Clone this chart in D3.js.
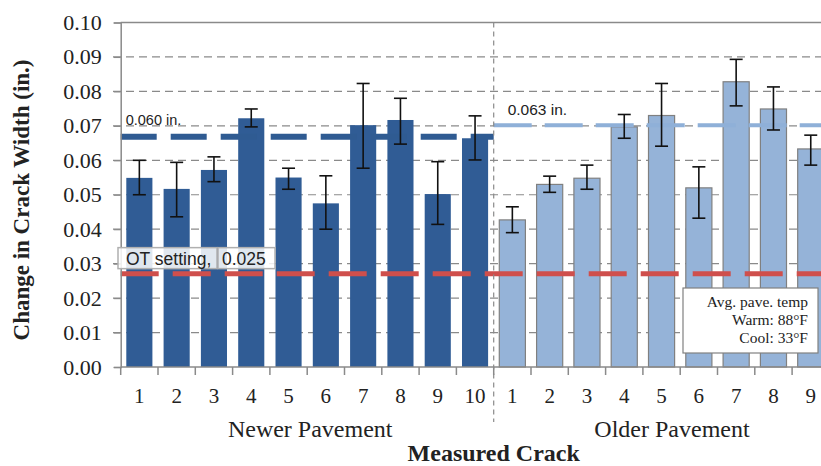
<!DOCTYPE html>
<html><head><meta charset="utf-8">
<script src="https://cdn.jsdelivr.net/npm/d3@7"></script>
<style>body{margin:0;background:#fff}svg{display:block}</style>
</head><body>
<svg id="c" width="821" height="466"></svg>
<script>
const newerCracks = ["1","2","3","4","5","6","7","8","9","10"];
const olderCracks = ["1","2","3","4","5","6","7","8","9","10"];
const newerValues = [0.0549,0.0517,0.0572,0.0722,0.0550,0.0475,0.0702,0.0717,0.0502,0.0664];
const newerErrHigh = [0.0600,0.0594,0.0610,0.0749,0.0577,0.0555,0.0823,0.0780,0.0596,0.0729];
const newerErrLow  = [0.0500,0.0436,0.0538,0.0697,0.0516,0.0400,0.0577,0.0647,0.0414,0.0601];
const olderValues = [0.0427,0.0530,0.0548,0.0697,0.0730,0.0520,0.0828,0.0749,0.0633];
const olderErrHigh = [0.0465,0.0554,0.0586,0.0733,0.0823,0.0581,0.0893,0.0813,0.0673];
const olderErrLow  = [0.0390,0.0507,0.0516,0.0664,0.0641,0.0432,0.0758,0.0688,0.0586];
const yTicks = [0,0.01,0.02,0.03,0.04,0.05,0.06,0.07,0.08,0.09,0.10];
const newerAvgLine = 0.0668, newerAvgLabel = "0.060 in.";
const olderAvgLine = 0.0702, olderAvgLabel = "0.063 in.";
const otLine = 0.0271, otLabel1 = "OT setting,", otLabel2 = "0.025";
const legendLines = ["Avg. pave. temp","Warm: 88°F","Cool: 33°F"];
const groupLabels = ["Newer Pavement","Older Pavement"];
const xTitle = "Measured Crack", yTitle = "Change in Crack Width (in.)";

const W = 821;
const svg = d3.select("#c");
const L = 120.7, T = 22.5, B = 367, step = 37.3;
const keys = newerCracks.map(c=>"N"+c).concat(olderCracks.map(c=>"O"+c));
const R = L + step*keys.length;
const x = d3.scaleBand().domain(keys).range([L,R]).paddingInner(0.3).paddingOuter(0.15);
const y = d3.scaleLinear().domain([0,0.10]).range([B,T]);
const serif = "'Liberation Serif','Times New Roman',serif";
const sans = "'Liberation Sans',Arial,sans-serif";
const st = x.step();
const slotLeft = k => x(k) - x.paddingInner()*st/2;
const cxOf = k => x(k) + x.bandwidth()/2;

// grid
svg.append("g").selectAll("line").data(yTicks.filter(t=>t>0 && t<0.10)).join("line")
  .attr("x1",113).attr("x2",W).attr("y1",d=>y(d)).attr("y2",d=>y(d))
  .attr("stroke","#8a8a8a").attr("stroke-width",1.2).attr("stroke-dasharray","8,5");
// top border
svg.append("line").attr("x1",L).attr("x2",W).attr("y1",y(0.10)).attr("y2",y(0.10)).attr("stroke","#8a8a8a").attr("stroke-width",1.5);

const newerData = newerValues.map((v,i)=>({k:"N"+newerCracks[i],v,hi:newerErrHigh[i],lo:newerErrLow[i]}));
const olderData = olderValues.map((v,i)=>({k:"O"+olderCracks[i],v,hi:olderErrHigh[i],lo:olderErrLow[i]}));

svg.append("g").selectAll("rect").data(newerData).join("rect")
  .attr("x",d=>x(d.k)).attr("width",x.bandwidth()).attr("y",d=>y(d.v)).attr("height",d=>B-y(d.v))
  .attr("fill","#305c95");
svg.append("g").selectAll("rect").data(olderData).join("rect")
  .attr("x",d=>x(d.k)).attr("width",x.bandwidth()).attr("y",d=>y(d.v)).attr("height",d=>B-y(d.v))
  .attr("fill","#95b3d8").attr("stroke","#808080").attr("stroke-width",1.2);

// reference lines
const nEnd = slotLeft("O1");
svg.append("line").attr("x1",L).attr("x2",nEnd).attr("y1",y(newerAvgLine)).attr("y2",y(newerAvgLine))
  .attr("stroke","#2f5b92").attr("stroke-width",6).attr("stroke-dasharray","36,14");
svg.append("line").attr("x1",nEnd).attr("x2",R).attr("y1",y(olderAvgLine)).attr("y2",y(olderAvgLine))
  .attr("stroke","#8fb0d8").attr("stroke-width",4).attr("stroke-dasharray","38,13");
svg.append("line").attr("x1",L).attr("x2",R).attr("y1",y(otLine)).attr("y2",y(otLine))
  .attr("stroke","#cf4f4c").attr("stroke-width",5).attr("stroke-dasharray","38,14");

// error bars
const allData = newerData.concat(olderData);
const eg = svg.append("g").attr("stroke","#111").attr("stroke-width",1.6);
allData.forEach(d=>{
  const cx = cxOf(d.k);
  eg.append("line").attr("x1",cx).attr("x2",cx).attr("y1",y(d.hi)).attr("y2",y(d.lo));
  eg.append("line").attr("x1",cx-6.5).attr("x2",cx+6.5).attr("y1",y(d.hi)).attr("y2",y(d.hi));
  eg.append("line").attr("x1",cx-6.5).attr("x2",cx+6.5).attr("y1",y(d.lo)).attr("y2",y(d.lo));
});

// divider
svg.append("line").attr("x1",nEnd).attr("x2",nEnd).attr("y1",T).attr("y2",422)
  .attr("stroke","#8a8a8a").attr("stroke-width",1.2).attr("stroke-dasharray","5,4");

// y axis
const ya = svg.append("g").attr("transform",`translate(${L},0)`)
  .call(d3.axisLeft(y).tickValues(yTicks).tickFormat(d3.format(".2f")).tickSize(7).tickPadding(12));
ya.select(".domain").attr("stroke","#8a8a8a").attr("stroke-width",1.5);
ya.selectAll(".tick line").attr("stroke","#8a8a8a").attr("stroke-width",1.2);
ya.selectAll("text").attr("font-family",serif).attr("font-size",22).attr("fill","#222");

// x axis
svg.append("line").attr("x1",L).attr("x2",W).attr("y1",B).attr("y2",B).attr("stroke","#8a8a8a").attr("stroke-width",1.5);
svg.append("g").selectAll("line").data(keys.filter(k=>slotLeft(k)<W)).join("line")
  .attr("x1",d=>slotLeft(d)).attr("x2",d=>slotLeft(d)).attr("y1",B).attr("y2",B+8)
  .attr("stroke","#8a8a8a").attr("stroke-width",1.5);
svg.append("g").selectAll("text").data(keys.filter(k=>cxOf(k)+8<W)).join("text")
  .attr("x",d=>cxOf(d)).attr("y",403).attr("text-anchor","middle")
  .attr("font-family",serif).attr("font-size",21).attr("fill","#222").text(d=>d.slice(1));

// group labels
svg.append("text").attr("x",(L+nEnd)/2+3).attr("y",437).attr("text-anchor","middle")
  .attr("font-family",serif).attr("font-size",24).attr("fill","#222").text(groupLabels[0]);
svg.append("text").attr("x",672).attr("y",437).attr("text-anchor","middle")
  .attr("font-family",serif).attr("font-size",24).attr("fill","#222").text(groupLabels[1]);
svg.append("text").attr("x",(L+R)/2).attr("y",461).attr("text-anchor","middle")
  .attr("font-family",serif).attr("font-size",24).attr("font-weight","bold").attr("fill","#222").text(xTitle);
svg.append("text").attr("transform","translate(29,200) rotate(-90)").attr("text-anchor","middle")
  .attr("font-family",serif).attr("font-size",23).attr("font-weight","bold").attr("fill","#222").text(yTitle);

// avg labels
svg.append("text").attr("x",L+5).attr("y",y(newerAvgLine)-12).attr("font-family",sans).attr("font-size",14.5).attr("fill","#222").text(newerAvgLabel);
svg.append("text").attr("x",nEnd+14).attr("y",y(olderAvgLine)-10).attr("font-family",sans).attr("font-size",15.5).attr("fill","#222").text(olderAvgLabel);

// OT setting boxes
const oy = y(otLine);
const bx = svg.append("g");
bx.append("rect").attr("x",118).attr("y",oy-26).attr("width",99).attr("height",21).attr("fill","#fff").attr("fill-opacity",0.85).attr("stroke","#b0b0b0").attr("stroke-width",1.5);
bx.append("rect").attr("x",218).attr("y",oy-26).attr("width",57).attr("height",21).attr("fill","#fff").attr("fill-opacity",0.85).attr("stroke","#b0b0b0").attr("stroke-width",1.5);
bx.append("text").attr("x",126).attr("y",oy-9).attr("font-family",sans).attr("font-size",17.5).attr("fill","#222").text(otLabel1);
bx.append("text").attr("x",222).attr("y",oy-9).attr("font-family",sans).attr("font-size",17.5).attr("fill","#222").text(otLabel2);

// legend box
const lg = svg.append("g");
lg.append("rect").attr("x",683).attr("y",288).attr("width",135).attr("height",65).attr("fill","#fff").attr("stroke","#808080").attr("stroke-width",1.2);
lg.selectAll("text").data(legendLines).join("text").attr("x",808).attr("y",(d,i)=>307+i*18).attr("text-anchor","end")
  .attr("font-family",serif).attr("font-size",15.5).attr("fill","#222").text(d=>d);
</script>
</body></html>
